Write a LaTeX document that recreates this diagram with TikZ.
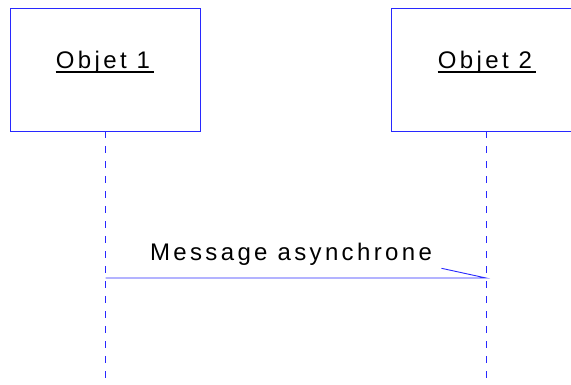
\documentclass[tikz,border=0pt]{standalone}
\usepackage{fontspec}
\newfontfamily\lbl[LetterSpace=14]{Liberation Sans}
\definecolor{umlblue}{RGB}{40,40,255}
\begin{document}
\begin{tikzpicture}[x=1pt,y=1pt,
  objbox/.style={draw=umlblue, line width=0.9pt, minimum width=190pt, minimum height=123pt, inner sep=0pt},
  lbltext/.style={inner sep=0pt, anchor=base, font=\lbl\fontsize{24}{28}\selectfont, text=black},
  uline/.style={line width=1.4pt, black},
  lifeline/.style={draw=umlblue, line width=1pt, dash pattern=on 7pt off 8pt},
  msgline/.style={draw=umlblue, line width=0.9pt}]
\useasboundingbox (0,0) rectangle (571,-385);
% objects
\node[objbox] (o1) at (105,-69.5) {};
\node[objbox] (o2) at (486,-69.5) {};
\node[lbltext] (t1) at (103,-68.5) {Objet 1};
\node[lbltext] (t2) at (485,-68.5) {Objet 2};
\draw[uline] ([yshift=-3.5pt]t1.base west) -- ([yshift=-3.5pt,xshift=4pt]t1.base east);
\draw[uline] ([yshift=-3.5pt]t2.base west) -- ([yshift=-3.5pt,xshift=4pt]t2.base east);
% lifelines
\coordinate (l1) at (105.5,-382);
\coordinate (l2) at (486,-382);
\draw[lifeline] ([xshift=0.5pt]o1.south) -- (l1);
\draw[lifeline] (o2.south) -- (l2);
% message
\coordinate (m1) at (105.5,-278);
\coordinate (m2) at (486,-278);
\coordinate (h) at (441.5,-268.3);
\draw[msgline] (m1) -- (m2) -- (h);
\node[lbltext] (msg) at (291,-260.7) {Message asynchrone};
\end{tikzpicture}
\end{document}
